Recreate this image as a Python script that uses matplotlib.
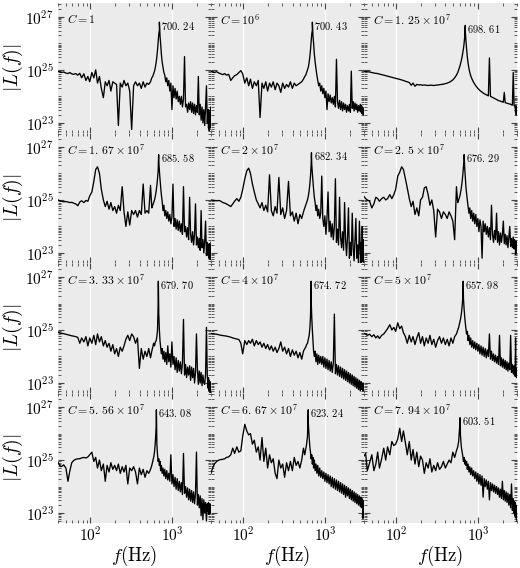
import numpy as np
import matplotlib
matplotlib.use('Agg')
import matplotlib.pyplot as plt
from matplotlib.ticker import FixedLocator, LogLocator, FuncFormatter, NullFormatter

plt.rcParams['mathtext.fontset'] = 'cm'

# frequency grid (Hz), shared by all panels
freqs = [
    40, 42, 44, 47, 50, 53, 56, 59, 62, 66,
    70, 74, 78, 83, 88, 93, 98, 104, 110, 116,
    122, 129, 136, 144, 152, 160, 169, 178, 188, 198,
    209, 220, 232, 245, 258, 272, 287, 303, 320, 338,
    357, 377, 398, 420, 443, 467, 492, 518, 545, 565,
    580, 595, 610, 625, 640, 652, 664, 676, 688, 700,
    712, 725, 740, 757, 775, 795, 815, 838, 862, 887,
    913, 940, 968, 997, 1027, 1058, 1090, 1123, 1157, 1192,
    1228, 1265, 1303, 1342, 1382, 1423, 1465, 1508, 1552, 1597,
    1643, 1690, 1738, 1787, 1837, 1888, 1940, 1993, 2047, 2102,
    2158, 2215, 2273, 2332, 2392, 2453, 2515, 2578, 2642, 2707,
    2773, 2800, 2830, 2860, 2890, 2920, 2945, 2970, 2990, 3000,
]

# log10 |L(f)|, one row of 10 per line of freqs
spec_c1 = [
    24.95, 24.93, 24.9, 24.92, 24.88, 24.86, 24.9, 24.85, 24.83, 24.86,
    24.8, 24.87, 24.7, 24.85, 24.6, 24.75, 24.55, 24.9, 24.7, 25.0,
    24.5, 24.75, 24.3, 23.95, 24.55, 24.4, 24.6, 24.2, 24.55, 24.5,
    24.45, 22.9, 24.5, 24.35, 24.6, 24.4, 24.5, 24.2, 22.75, 24.4,
    24.55, 24.4, 24.5, 24.3, 24.55, 24.35, 24.5, 24.45, 24.55, 24.7,
    24.75, 24.85, 24.95, 25.1, 25.3, 25.5, 25.75, 26.05, 26.35, 26.5,
    26.3, 26.0, 25.6, 25.3, 25.1, 24.9, 24.8, 24.55, 24.7, 24.4,
    24.6, 24.2, 24.5, 23.5, 24.4, 23.95, 24.3, 23.9, 24.2, 23.8,
    24.0, 23.7, 24.0, 23.6, 23.9, 25.5, 23.6, 23.7, 23.4, 23.75,
    23.5, 23.8, 23.4, 23.75, 23.35, 23.7, 23.3, 23.65, 23.4, 24.75,
    23.3, 23.7, 23.1, 23.6, 23.0, 23.5, 22.9, 23.6, 24.4, 23.0,
    23.5, 22.8, 23.4, 22.7, 23.3, 22.8, 23.5, 22.9, 23.6, 23.2,
]
spec_c1e6 = [
    24.95, 24.92, 24.9, 24.93, 24.88, 24.85, 24.82, 24.86, 24.8, 24.83,
    24.6, 24.7, 24.78, 24.82, 24.9, 24.97, 24.85, 24.5, 24.7, 24.4,
    24.65, 24.3, 24.55, 24.4, 24.6, 23.2, 24.5, 24.3, 24.55, 24.2,
    24.5, 24.35, 24.55, 24.25, 24.5, 24.4, 24.15, 24.5, 24.3, 24.45,
    24.35, 24.55, 24.3, 24.5, 24.4, 24.45, 24.5, 24.55, 24.65, 24.75,
    24.8, 24.9, 25.0, 25.1, 25.3, 25.5, 25.75, 26.05, 26.35, 26.5,
    26.3, 26.0, 25.6, 25.3, 25.05, 24.8, 24.6, 24.4, 24.5, 24.2,
    24.4, 24.1, 24.3, 23.95, 24.2, 23.5, 24.1, 23.8, 24.05, 23.75,
    23.95, 23.7, 24.0, 23.6, 25.4, 23.8, 23.55, 23.85, 23.5, 23.8,
    23.45, 23.75, 23.5, 23.7, 23.4, 23.65, 23.45, 23.7, 23.4, 24.95,
    23.55, 23.8, 23.45, 23.75, 23.5, 23.7, 23.4, 23.65, 23.45, 23.7,
    23.4, 23.65, 23.35, 23.6, 23.4, 23.55, 23.3, 23.5, 23.35, 23.45,
]
spec_c125e5 = [
    24.95, 24.94, 24.93, 24.92, 24.9, 24.88, 24.87, 24.86, 24.84, 24.82,
    24.8, 24.78, 24.76, 24.74, 24.72, 24.7, 24.68, 24.66, 24.64, 24.62,
    24.6, 24.57, 24.55, 24.52, 24.42, 24.5, 24.38, 24.45, 24.43, 24.44,
    24.42, 24.43, 24.42, 24.41, 24.42, 24.42, 24.41, 24.42, 24.43, 24.44,
    24.45, 24.46, 24.48, 24.5, 24.53, 24.57, 24.62, 24.7, 24.8, 24.9,
    25.0, 25.1, 25.22, 25.35, 25.5, 25.65, 25.8, 26.0, 26.25, 26.45,
    26.1, 25.8, 25.5, 25.25, 25.05, 24.9, 24.78, 24.68, 24.6, 24.52,
    24.46, 24.4, 24.35, 24.3, 24.26, 24.22, 24.19, 24.16, 24.13, 24.1,
    24.08, 24.06, 24.04, 24.02, 25.45, 24.0, 23.98, 23.96, 23.94, 23.92,
    23.9, 23.88, 23.86, 23.84, 23.83, 23.82, 23.8, 23.79, 23.78, 24.15,
    23.76, 23.75, 23.74, 23.73, 23.72, 23.71, 23.7, 23.68, 23.67, 24.9,
    23.65, 23.64, 23.62, 23.6, 23.4, 23.65, 23.3, 23.6, 23.35, 23.55,
]
spec_c167e5 = [
    25.0, 24.97, 24.95, 24.93, 24.94, 24.92, 24.9, 24.91, 24.88, 24.85,
    24.78, 24.92, 24.97, 24.9, 24.98, 24.95, 25.15, 25.3, 25.7, 26.15,
    26.25, 26.0, 25.4, 25.0, 24.75, 24.95, 24.65, 24.9, 24.6, 24.75,
    24.5, 24.8, 24.6, 25.5, 24.55, 24.0, 24.55, 24.05, 24.6, 24.45,
    24.6, 24.35, 24.6, 24.45, 25.6, 24.5, 24.6, 24.5, 25.55, 24.7,
    24.8, 24.9, 25.0, 25.15, 25.35, 25.55, 25.8, 26.1, 26.45, 26.1,
    25.8, 25.5, 25.2, 24.95, 24.6, 24.8, 24.4, 24.6, 24.3, 24.55,
    24.2, 24.45, 24.1, 24.35, 25.6, 24.0, 24.3, 23.9, 24.25, 23.85,
    24.2, 23.8, 24.1, 23.7, 25.5, 23.8, 24.0, 23.6, 23.95, 23.5,
    25.1, 23.7, 23.4, 23.8, 23.3, 23.7, 24.85, 23.3, 23.6, 23.2,
    23.55, 23.1, 24.6, 23.2, 23.5, 23.0, 23.45, 24.2, 22.9, 23.4,
    22.9, 23.3, 22.8, 23.35, 22.85, 23.2, 22.75, 23.3, 22.9, 23.4,
]
spec_c2e7 = [
    25.0, 24.99, 24.98, 24.97, 24.98, 24.95, 24.9, 24.88, 24.85, 24.8,
    24.75, 24.85, 24.95, 25.05, 24.95, 25.1, 25.4, 25.8, 26.1, 26.2,
    26.0, 25.6, 25.3, 25.0, 24.85, 24.7, 24.9, 24.6, 24.8, 24.55,
    25.95, 24.6, 24.4, 24.75, 24.5, 25.85, 24.45, 24.7, 24.3, 24.6,
    25.7, 24.4, 24.55, 24.2, 24.5, 24.1, 24.45, 24.3, 24.55, 24.7,
    24.8, 24.9, 25.0, 25.15, 25.35, 25.6, 25.9, 26.3, 26.35, 26.0,
    25.7, 25.4, 25.1, 24.9, 24.6, 24.8, 24.4, 24.65, 24.3, 24.5,
    25.9, 24.3, 24.0, 24.4, 23.7, 24.3, 25.3, 23.8, 24.2, 23.6,
    24.1, 23.5, 24.0, 25.8, 23.4, 23.9, 23.3, 25.1, 23.6, 23.2,
    23.8, 23.1, 24.9, 23.5, 22.9, 23.6, 24.7, 22.8, 23.4, 22.9,
    24.5, 23.2, 22.7, 23.5, 24.3, 22.8, 23.3, 22.6, 24.2, 23.1,
    22.6, 23.4, 22.7, 24.0, 22.8, 23.3, 22.65, 23.5, 22.8, 23.2,
]
spec_c25e6 = [
    25.13, 25.05, 25.0, 24.95, 24.7, 24.85, 25.1, 25.05, 24.95, 25.05,
    25.1, 25.0, 25.05, 25.2, 25.05, 25.2, 25.4, 25.9, 26.05, 26.25,
    26.15, 25.8, 25.45, 25.05, 24.75, 24.95, 24.45, 24.7, 24.4, 25.0,
    25.1, 25.45, 25.5, 25.2, 24.8, 25.0, 24.6, 23.6, 24.65, 24.55,
    24.3, 24.55, 24.45, 24.3, 24.55, 24.4, 24.2, 23.5, 25.5, 24.9,
    25.0, 25.1, 25.25, 25.45, 25.7, 25.95, 26.25, 26.45, 26.2, 25.85,
    25.5, 25.25, 25.0, 24.75, 24.5, 24.7, 24.3, 24.6, 24.2, 24.5,
    24.1, 24.45, 24.0, 24.3, 23.8, 24.25, 24.0, 22.8, 24.2, 23.8,
    24.1, 23.7, 24.0, 23.6, 23.95, 23.5, 24.8, 23.7, 23.4, 23.85,
    23.5, 24.5, 23.4, 23.8, 23.3, 23.75, 23.4, 23.7, 24.2, 23.35,
    23.7, 23.3, 23.65, 23.2, 23.6, 24.0, 23.25, 23.55, 23.2, 23.6,
    23.15, 23.5, 23.2, 23.4, 22.95, 23.45, 23.1, 23.4, 23.0, 23.3,
]
spec_c333e5 = [
    24.92, 24.9, 24.88, 24.86, 24.84, 24.82, 24.8, 24.78, 24.77, 24.75,
    24.72, 24.5, 24.7, 24.55, 24.75, 24.4, 24.7, 24.5, 24.8, 24.45,
    24.85, 24.55, 24.75, 24.4, 24.6, 24.35, 24.5, 24.2, 24.45, 24.1,
    24.3, 24.0, 24.35, 24.2, 24.4, 24.65, 24.8, 24.6, 24.85, 24.75,
    24.5, 24.7, 23.55, 24.3, 23.9, 24.2, 24.0, 24.3, 23.95, 24.2,
    24.35, 24.5, 24.4, 24.55, 24.6, 24.75, 25.0, 26.0, 25.6, 25.0,
    24.6, 24.35, 24.1, 24.3, 23.9, 24.2, 23.8, 24.15, 23.7, 24.4,
    23.8, 24.1, 23.6, 24.55, 23.7, 24.0, 23.5, 23.95, 23.4, 23.85,
    23.45, 23.8, 23.35, 23.75, 25.4, 23.3, 23.7, 23.2, 23.6, 23.3,
    23.65, 23.1, 23.6, 23.2, 23.55, 23.0, 23.4, 24.85, 23.5, 22.95,
    23.45, 23.0, 23.4, 22.9, 23.3, 23.0, 22.95, 23.35, 25.1, 23.25,
    22.8, 23.2, 22.7, 23.1, 22.75, 23.05, 22.6, 23.0, 22.7, 22.9,
]
spec_c4e7 = [
    24.87, 24.86, 24.85, 24.84, 24.82, 24.8, 24.79, 24.78, 24.77, 24.75,
    24.73, 24.7, 24.68, 24.66, 24.64, 24.5, 24.1, 24.6, 24.45, 24.6,
    24.5, 24.65, 24.4, 24.6, 24.45, 24.55, 24.35, 24.5, 24.3, 24.45,
    24.25, 24.4, 24.2, 24.35, 24.15, 24.3, 24.55, 24.2, 24.35, 24.1,
    24.3, 24.0, 24.25, 24.05, 24.2, 23.95, 24.15, 23.9, 24.2, 24.3,
    24.35, 24.45, 24.5, 24.65, 24.8, 25.05, 25.5, 26.2, 25.5, 25.0,
    24.6, 24.2, 24.0, 24.2, 23.8, 24.1, 23.7, 24.05, 23.75, 24.0,
    23.7, 24.0, 23.6, 23.95, 23.55, 23.9, 23.5, 23.85, 23.45, 23.8,
    23.4, 23.75, 25.6, 23.35, 23.7, 23.3, 23.65, 23.25, 23.6, 23.2,
    23.55, 23.15, 23.5, 23.1, 23.45, 23.05, 23.4, 23.0, 23.35, 22.95,
    23.3, 22.9, 23.25, 22.85, 23.2, 22.8, 23.15, 22.75, 23.1, 22.7,
    23.05, 22.75, 23.0, 22.8, 22.95, 22.7, 23.0, 22.8, 22.9, 22.75,
]
spec_c5e7 = [
    24.87, 24.85, 24.8, 24.84, 24.75, 24.82, 24.7, 24.78, 24.68, 24.8,
    24.85, 24.95, 25.05, 25.2, 25.0, 25.1, 24.95, 25.27, 25.05, 25.15,
    24.9, 24.75, 24.5, 24.8, 24.55, 24.75, 24.45, 24.7, 24.9, 24.5,
    24.75, 24.4, 24.7, 24.5, 24.8, 24.45, 24.65, 24.35, 24.6, 24.75,
    24.5, 24.7, 24.45, 24.65, 24.4, 24.7, 24.5, 24.75, 24.85, 25.0,
    25.1, 25.25, 25.4, 25.6, 25.9, 26.25, 26.2, 25.8, 25.5, 25.25,
    25.05, 24.85, 24.95, 24.6, 24.8, 24.45, 24.7, 24.35, 24.6, 24.3,
    24.55, 24.25, 24.5, 24.2, 24.45, 24.1, 24.4, 24.05, 24.35, 24.0,
    24.3, 23.95, 24.25, 24.0, 24.85, 23.9, 24.2, 23.85, 24.1, 23.8,
    24.05, 23.75, 24.0, 23.7, 24.8, 23.65, 23.95, 23.6, 23.9, 23.55,
    23.85, 23.5, 23.8, 23.45, 23.75, 23.5, 24.8, 23.4, 23.7, 23.35,
    23.65, 23.3, 23.6, 23.25, 24.7, 23.3, 23.55, 23.2, 23.5, 23.3,
]
spec_c556e5 = [
    24.92, 24.8, 24.75, 24.82, 24.7, 24.2, 24.6, 24.9, 24.98, 25.03,
    25.05, 25.05, 25.08, 25.1, 25.08, 25.12, 25.2, 25.3, 24.95, 25.1,
    24.7, 25.0, 24.6, 24.85, 24.2, 24.8, 24.55, 24.9, 24.65, 24.8,
    24.6, 24.85, 24.5, 24.75, 24.55, 24.8, 24.1, 24.7, 24.6, 24.75,
    24.55, 24.1, 24.7, 24.45, 24.65, 24.35, 24.6, 24.5, 24.65, 24.8,
    24.95, 25.1, 25.3, 25.7, 26.3, 25.6, 25.2, 24.95, 25.05, 24.8,
    24.95, 24.6, 24.8, 24.5, 24.7, 24.4, 24.65, 24.3, 24.6, 24.25,
    24.5, 24.2, 25.2, 24.1, 24.45, 24.0, 24.35, 23.9, 24.3, 23.85,
    24.2, 23.8, 24.15, 23.7, 25.25, 23.75, 24.0, 23.6, 23.95, 23.5,
    23.9, 23.45, 23.85, 23.4, 23.8, 23.35, 23.75, 25.3, 23.3, 23.7,
    23.2, 23.65, 22.9, 23.55, 22.75, 23.5, 23.0, 23.4, 22.7, 23.35,
    23.05, 23.4, 22.95, 23.3, 23.1, 23.35, 23.0, 23.3, 23.1, 23.25,
]
spec_c667e5 = [
    24.5, 24.7, 24.85, 24.95, 25.0, 25.02, 25.03, 25.05, 25.1, 25.12,
    25.2, 25.45, 25.25, 25.5, 25.3, 25.35, 25.9, 26.35, 26.1, 25.95,
    26.0, 25.6, 25.75, 25.3, 25.5, 25.0, 25.85, 24.95, 25.45, 24.7,
    25.2, 24.9, 25.05, 24.5, 24.3, 25.0, 24.7, 24.85, 24.35, 24.9,
    24.6, 24.95, 24.6, 25.1, 24.8, 24.95, 24.7, 25.0, 25.45, 25.2,
    25.4, 25.6, 25.9, 26.4, 25.85, 25.5, 25.3, 25.05, 25.2, 24.85,
    25.1, 24.7, 25.0, 24.6, 24.85, 24.5, 24.8, 24.4, 24.7, 24.35,
    24.6, 24.3, 24.55, 24.2, 24.5, 24.15, 24.45, 24.1, 24.4, 24.0,
    24.35, 23.95, 24.3, 23.9, 24.25, 23.85, 24.2, 23.8, 24.15, 23.75,
    24.1, 23.7, 24.05, 23.6, 24.0, 23.65, 23.95, 23.55, 23.9, 23.5,
    23.85, 23.45, 23.8, 23.4, 23.75, 23.35, 23.7, 23.3, 23.65, 23.25,
    23.6, 23.2, 23.55, 23.25, 23.5, 22.8, 23.45, 23.3, 22.9, 23.4,
]
spec_c794e5 = [
    25.15, 25.25, 24.6, 24.9, 25.2, 24.6, 24.85, 25.3, 24.7, 25.05,
    25.45, 25.0, 25.5, 25.2, 25.7, 25.55, 25.6, 25.8, 26.2, 25.7,
    26.1, 25.65, 25.2, 25.7, 25.0, 25.4, 24.85, 25.3, 24.75, 25.15,
    25.0, 24.5, 24.9, 24.7, 25.05, 24.55, 24.8, 24.6, 24.9, 24.65,
    24.75, 24.95, 24.7, 24.85, 25.0, 24.9, 25.3, 25.1, 25.35, 25.5,
    25.7, 26.2, 25.95, 25.5, 25.3, 25.15, 24.95, 25.1, 24.85, 25.0,
    24.8, 24.95, 24.65, 24.85, 24.55, 24.75, 24.45, 24.7, 24.4, 24.6,
    24.3, 24.55, 24.2, 24.5, 24.1, 24.45, 24.05, 24.4, 23.6, 24.3,
    24.0, 24.25, 23.9, 24.2, 23.5, 24.15, 23.85, 24.1, 23.8, 24.05,
    23.75, 24.0, 23.7, 23.95, 23.6, 23.9, 23.55, 24.2, 23.5, 23.85,
    23.45, 23.8, 23.4, 23.75, 23.3, 23.7, 23.2, 24.1, 23.1, 23.55,
    23.0, 23.45, 22.9, 23.4, 22.85, 23.3, 22.8, 23.2, 22.75, 22.7,
]

# panel labels, dominant peak frequency (Hz) and its height (log10)
c_labels = [
    r'$C=1$', r'$C=10^{6}$', r'$C=1.\,25\times10^{7}$',
    r'$C=1.\,67\times10^{7}$', r'$C=2\times10^{7}$', r'$C=2.\,5\times10^{7}$',
    r'$C=3.\,33\times10^{7}$', r'$C=4\times10^{7}$', r'$C=5\times10^{7}$',
    r'$C=5.\,56\times10^{7}$', r'$C=6.\,67\times10^{7}$', r'$C=7.\,94\times10^{7}$',
]
peak_freq = [700.24, 700.43, 698.61, 685.58, 682.34, 676.29,
             679.70, 674.72, 657.98, 643.08, 623.24, 603.51]
peak_amp = [26.8, 26.8, 26.68, 26.71, 26.78, 26.71,
            26.84, 26.84, 26.84, 26.9, 26.9, 26.6]

spectra = [spec_c1, spec_c1e6, spec_c125e5, spec_c167e5, spec_c2e7, spec_c25e6,
           spec_c333e5, spec_c4e7, spec_c5e7, spec_c556e5, spec_c667e5, spec_c794e5]

fig, axes = plt.subplots(4, 3, sharex=True, sharey=True, figsize=(5.2, 5.68), dpi=100)
fig.subplots_adjust(left=0.1115, right=0.994, top=0.995, bottom=0.079, wspace=0, hspace=0)

sf_fmt = FuncFormatter(lambda v, pos: r'$\mathsf{10^{%d}}$' % round(np.log10(v)))

for i, ax in enumerate(axes.flat):
    spec = spectra[i]
    assert len(spec) == len(freqs)
    f = np.append(freqs, peak_freq[i])
    amp = np.append(spec, peak_amp[i])
    order = np.argsort(f)
    ax.set_facecolor('#ebebeb')
    ax.plot(f[order], 10 ** amp[order], color='black', lw=0.95)
    ax.set_xscale('log')
    ax.set_yscale('log')
    ax.set_xlim(40, 3000)
    ax.set_ylim(10 ** 22.62, 10 ** 27.53)
    ax.grid(True, axis='x', which='major', color='white', lw=1.0)
    ax.set_axisbelow(True)
    for s in ax.spines.values():
        s.set_visible(False)

    ax.xaxis.set_major_locator(FixedLocator([1e2, 1e3]))
    ax.xaxis.set_minor_locator(LogLocator(base=10, subs=np.arange(2, 10), numticks=20))
    ax.yaxis.set_major_locator(FixedLocator([1e23, 1e25, 1e27]))
    ax.yaxis.set_minor_locator(LogLocator(base=10, subs=np.arange(1, 10), numticks=20))
    ax.xaxis.set_major_formatter(sf_fmt)
    ax.yaxis.set_major_formatter(sf_fmt)
    ax.xaxis.set_minor_formatter(NullFormatter())
    ax.yaxis.set_minor_formatter(NullFormatter())
    ax.tick_params(which='both', direction='in', top=True, right=True, color='#444444', labelsize=11)
    ax.tick_params(which='major', length=4, width=0.8, pad=3)
    ax.tick_params(axis='x', which='major', pad=1.5)
    ax.tick_params(which='minor', length=2.5, width=0.6)

    ax.text(0.06, 0.87, c_labels[i], transform=ax.transAxes, fontsize=8.5, va='center', ha='left')
    ax.annotate(r'$%s.\,%s$' % tuple(('%.2f' % peak_freq[i]).split('.')),
                xy=(peak_freq[i], 10 ** peak_amp[i]), xytext=(1.5, -2.5),
                textcoords='offset points', fontsize=7.5, va='center', ha='left')

    if i % 3 == 0:
        ax.set_ylabel(r'$|L(f)|$', fontsize=14)
        ax.yaxis.set_label_coords(-0.215, 0.5)
    if i >= 9:
        ax.set_xlabel(r'$f(\mathrm{Hz})$', fontsize=13.5, labelpad=0)

fig.savefig('out.png', dpi=100)
